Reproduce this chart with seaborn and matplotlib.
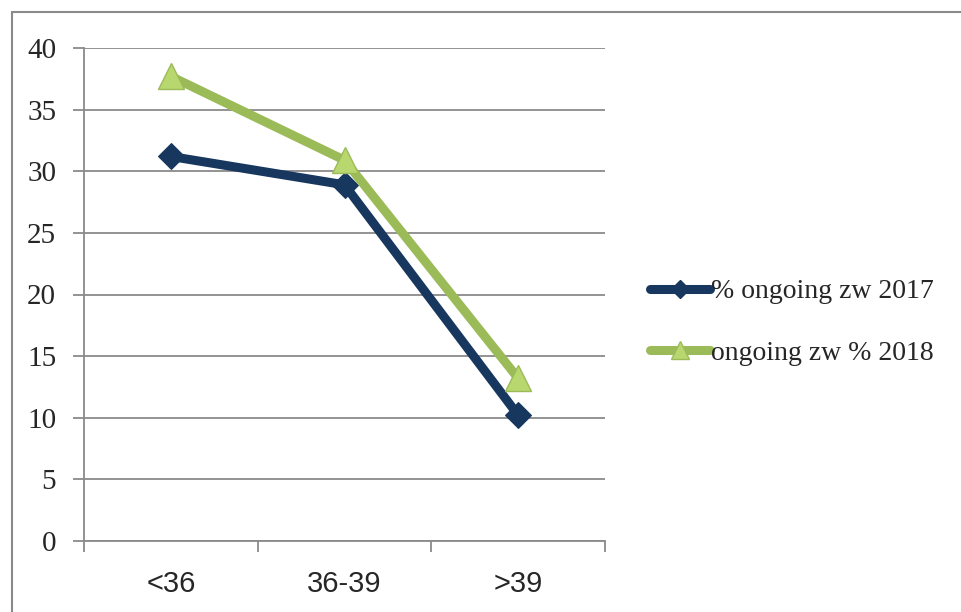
import matplotlib
matplotlib.use("Agg")
import matplotlib.pyplot as plt
from matplotlib.lines import Line2D
from matplotlib.ticker import FixedLocator, MultipleLocator
import pandas as pd
import seaborn as sns

# Age groups and the ongoing-pregnancy percentages per year
groups = ["<36", "36-39", ">39"]
ongoing_2017 = [31.2, 28.9, 10.2]
ongoing_2018 = [37.7, 30.9, 13.2]
label_2017 = "% ongoing zw 2017"
label_2018 = "ongoing zw % 2018"

sns.set_theme(style="white")
plt.rcParams["font.family"] = ["Liberation Serif", "DejaVu Serif"]

GRID = "#8a8a8a"
NAVY = "#17375e"
GREEN = "#9bbb59"
GREEN_FILL = "#b9d76f"

fig = plt.figure(figsize=(9.61, 6.12), dpi=100)
ax = fig.add_axes([84 / 961, 1 - 541 / 612, 521 / 961, 493 / 612])

df17 = pd.DataFrame({"group": groups, "value": ongoing_2017})
df18 = pd.DataFrame({"group": groups, "value": ongoing_2018})

sns.lineplot(data=df17, x="group", y="value", ax=ax, color=NAVY, lw=6.5,
             marker="D", markersize=13.5, markerfacecolor=NAVY, markeredgecolor=NAVY,
             solid_joinstyle="round", zorder=3)
sns.lineplot(data=df18, x="group", y="value", ax=ax, color=GREEN, lw=6.5,
             marker="^", markersize=19, markerfacecolor=GREEN_FILL, markeredgecolor=GREEN,
             markeredgewidth=1, solid_joinstyle="round", zorder=4)

ax.set_xlim(-0.5, 2.5)
ax.set_ylim(0, 40)
ax.yaxis.set_major_locator(MultipleLocator(5))
ax.set_xticks(range(len(groups)))
ax.set_xticklabels(groups, family=["Liberation Sans", "DejaVu Sans"], fontsize=21)
ax.xaxis.set_minor_locator(FixedLocator([-0.5, 0.5, 1.5, 2.5]))
ax.tick_params(axis="x", which="major", length=0, pad=21)
ax.tick_params(axis="x", which="minor", length=8, width=1.3, color=GRID, direction="out", bottom=True)
ax.tick_params(axis="y", which="major", length=8, width=1.3, color=GRID, direction="out",
               left=True, labelsize=21, pad=12)
ax.set_xlabel("")
ax.set_ylabel("")

ax.yaxis.grid(True, color=GRID, lw=1.3)
ax.set_axisbelow(True)
for side in ["top", "right"]:
    ax.spines[side].set_visible(False)
for side in ["left", "bottom"]:
    ax.spines[side].set_color(GRID)
    ax.spines[side].set_linewidth(1.3)

handles = [
    Line2D([], [], color=NAVY, lw=6.5, marker="D", markersize=9, solid_capstyle="round"),
    Line2D([], [], color=GREEN, lw=6.5, marker="^", markersize=13, markerfacecolor=GREEN_FILL,
           markeredgecolor=GREEN, solid_capstyle="round"),
]
fig.legend(handles, [label_2017, label_2018], loc="center left",
           bbox_to_anchor=(650 / 961, 1 - 322.5 / 612), frameon=False,
           fontsize=20, handlelength=2.15, handletextpad=0.05, labelspacing=1.3,
           borderpad=0, borderaxespad=0)

# outer chart frame (left and top edges)
fig.add_artist(Line2D([12 / 961, 12 / 961], [0, 1 - 12 / 612], transform=fig.transFigure,
                      color=GRID, lw=1.5))
fig.add_artist(Line2D([12 / 961, 1], [1 - 12 / 612, 1 - 12 / 612], transform=fig.transFigure,
                      color=GRID, lw=1.5))

fig.savefig("out.png", dpi=100)
